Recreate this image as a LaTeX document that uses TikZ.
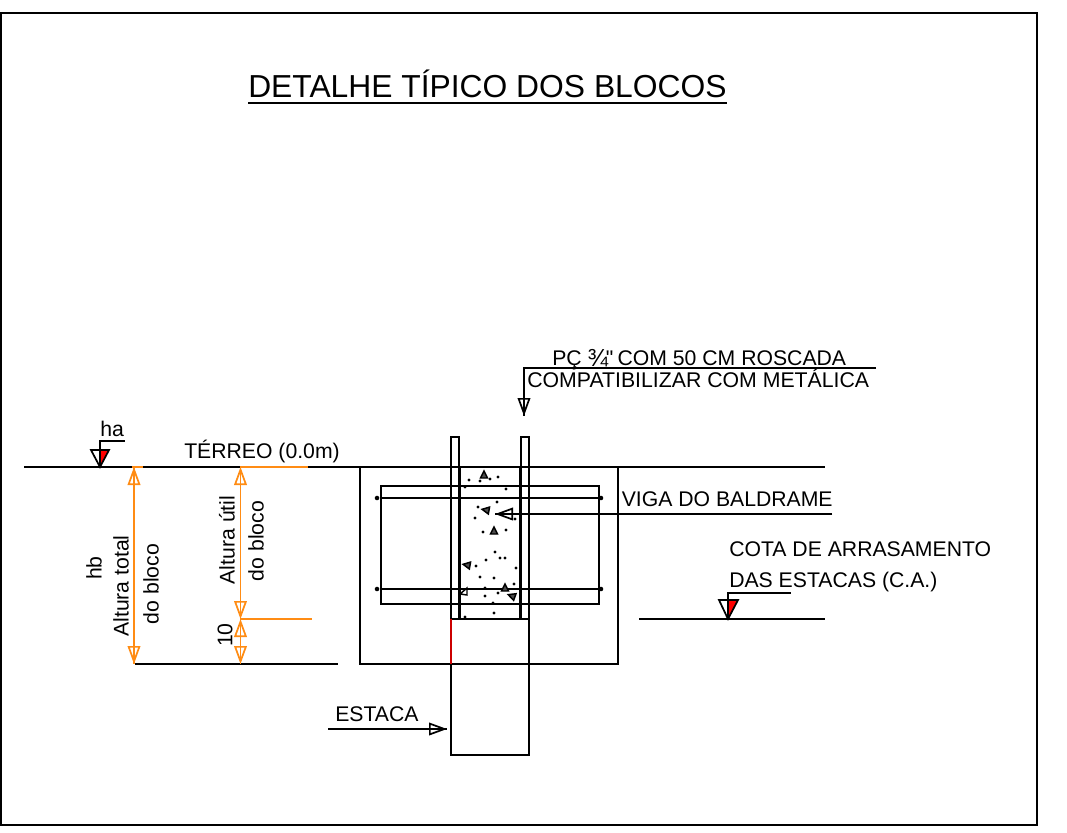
\documentclass[tikz,border=0pt]{standalone}
\usepackage{fontspec}
\setmainfont{Liberation Sans}
\newfontfamily\retofont{Liberation Sans}
\usetikzlibrary{arrows.meta}
\definecolor{cotaorange}{RGB}{255,140,20}
\tikzset{
  traco/.style={line width=1.3pt, black},
  cota/.style={line width=1.3pt, cotaorange},
  seta/.style={line width=1.3pt, tips=true, arrows={-{Triangle[open,length=13.5pt,width=9.5pt]}}},
  setacota/.style={cota, tips=true, arrows={{Triangle[open,length=13.5pt,width=9.5pt]}-{Triangle[open,length=13.5pt,width=9.5pt]}}},
  texto/.style={anchor=base west, inner sep=0pt, font=\fontsize{15.9}{18}\selectfont},
  textov/.style={rotate=90, inner sep=0pt, font=\fontsize{15.9}{18}\selectfont},
  ponto/.style={circle, fill=black, inner sep=0pt, minimum size=3.4pt}
}
\begin{document}
\begin{tikzpicture}[x=0.75pt,y=-0.75pt]
    \useasboundingbox (0,0) rectangle (1067,832);

    % Moldura
    \draw[line width=1.5pt] (1,13) rectangle (1037,825);

    % Titulo
    \node[anchor=base west, inner sep=0pt, font=\fontsize{23.85}{28}\selectfont] (titulo) at (248,97) {DETALHE TÍPICO DOS BLOCOS};
    \draw[line width=1.4pt] (titulo.base west |- 0,103) -- (titulo.base east |- 0,103);

    % Nivel do terreo e fundo do bloco
    \draw[traco] (24,467) -- (825,467);
    \draw[traco] (135,664) -- (338,664);
    \draw[traco] (639,619) -- (825,619);
    \draw[cota] (132,467) -- (143,467);
    \draw[cota] (240,467) -- (308,467);
    \draw[cota] (240,619) -- (312,619);

    % Bloco e estribo
    \draw[traco] (360,467) rectangle (618,664);
    \draw[traco] (381,486) rectangle (599,604);

    % Barras horizontais
    \node[ponto] (b1e) at (377,498) {};
    \node[ponto] (b1d) at (601,498) {};
    \node[ponto] (b2e) at (377,589) {};
    \node[ponto] (b2d) at (601,589) {};
    \draw[traco] (b1e) -- (b1d);
    \draw[traco] (b2e) -- (b2d);

    % Pilar
    \draw[traco] (451,619) -- (451,437) -- (459,437) -- (459,619);
    \draw[traco] (521,619) -- (521,437) -- (529,437) -- (529,619);
    \draw[line width=1.8pt] (459.5,467) -- (459.5,619);
    \draw[line width=1.8pt] (520.5,467) -- (520.5,619);

    % Estaca
    \draw[traco] (451,664) -- (451,755) -- (529,755) -- (529,619) -- (451,619);
    \draw[line width=1.3pt, red!80!black] (451,619) -- (451,664);

    % Concreto: pontos
    \foreach \px/\py in {469/480,480/481,490/479,498/477,465/487,506/489,497/502,478/507,475/518,515/519,483/532,506/530,495/552,486/560,500/558,505/558,476/566,516/568,480/577,494/578,514/584,485/588,498/593,485/596,493/603,494/613,465/617}
      \fill (\px,\py) circle (1.2pt);

    % Concreto: pedras
    \foreach \px/\py/\ang in {484/475/90,486/510/170,494/531/90,467/565/170,505/588/90,512/596/160}
      \draw[line width=1.1pt, fill=black!70, rotate around={\ang:(\px,\py)}] (\px+4,\py) -- (\px-3,\py-3.5) -- (\px-3,\py+3.5) -- cycle;
    \draw[line width=1.1pt] (467,588) -- (467,595) -- (460,594) -- cycle;

    % Nivel ha
    \coordinate (ha) at (100,467);
    \fill[red] (ha) -- (100,450) -- (109,450) -- cycle;
    \draw[traco] (ha) -- (91,450) -- (109,450) -- cycle;
    \draw[traco] (ha) -- (100,441) -- (125,441);
    \node[texto] (nha) at (100,436) {ha};
    \node[texto] (terreo) at (184,458) {TÉRREO (0.0m)};

    % Nivel de arrasamento
    \coordinate (arr) at (728,619);
    \fill[red] (arr) -- (728,600) -- (738,600) -- cycle;
    \draw[traco] (arr) -- (719,600) -- (738,600) -- cycle;
    \draw[traco] (arr) -- (728,593) -- (791,593);
    \node[texto] (cota1) at (729,556) {COTA DE ARRASAMENTO};
    \node[texto] (cota2) at (729,587) {DAS ESTACAS (C.A.)};

    % Cotas
    \coordinate (c1a) at (134,467);
    \coordinate (c1b) at (134,664);
    \coordinate (c2a) at (240.5,467);
    \coordinate (c2b) at (240.5,619);
    \coordinate (c2c) at (240.5,664);
    \draw[cota] (c1a) -- (c1b);
    \draw[cota] (c2a) -- (c2c);
    \draw[setacota] (c1a) -- (c1b);
    \draw[setacota] (c2a) -- (c2b);
    \draw[setacota] (c2b) -- (c2c);
    \node[textov] (hb) at (94,568) {hb};
    \node[textov] (atotal) at (121,586) {Altura total};
    \node[textov] (dob1) at (151,584) {do bloco};
    \node[textov] (autil) at (227,540) {Altura útil};
    \node[textov] (dob2) at (256,541) {do bloco};
    \node[textov] (dez) at (225,635) {10};

    % Chamada do PC
    \coordinate (pc0) at (876,368);
    \coordinate (pc1) at (524,368);
    \coordinate (pc2) at (524,416);
    \draw[traco] (pc0) -- (pc1) -- (pc2);
    \draw[seta] (pc1) -- (pc2);
    \node[texto] (pc) at (552,365) {PÇ \raisebox{-1.2pt}{\fontsize{18.5}{18}\selectfont ¾}\kern-1.8pt{\retofont"}\kern-1.2pt{} COM 50 CM ROSCADA};
    \node[texto, font=\fontsize{15.95}{18}\selectfont] (comp) at (527,387) {COMPATIBILIZAR COM METÁLICA};

    % Chamada da viga
    \coordinate (vg0) at (832,514);
    \coordinate (vg1) at (495,514);
    \draw[traco] (vg0) -- (vg1);
    \draw[seta] (vg0) -- (vg1);
    \node[texto] (viga) at (621.5,506) {VIGA DO BALDRAME};

    % Chamada da estaca
    \coordinate (es0) at (328,729);
    \coordinate (es1) at (447,729);
    \draw[traco] (es0) -- (es1);
    \draw[seta] (es0) -- (es1);
    \node[texto] (estaca) at (335,721) {ESTACA};
\end{tikzpicture}
\end{document}
